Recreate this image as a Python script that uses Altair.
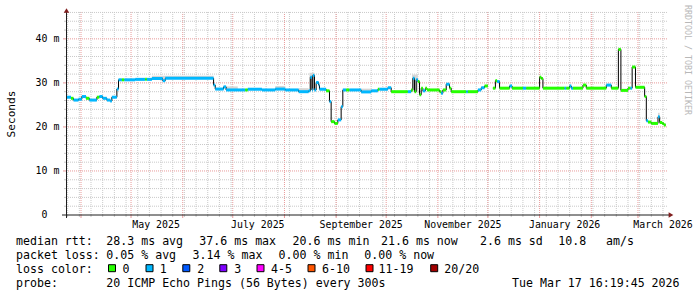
import altair as alt
import pandas as pd

# ---------------- data ----------------
seg_start = [
    "2025-03-23T12:00", "2025-03-26T00:00", "2025-03-27T12:00", "2025-03-30T12:00",
    "2025-04-01T12:00", "2025-04-04T00:00", "2025-04-06T00:00", "2025-04-10T12:00",
    "2025-04-12T00:00", "2025-04-14T00:00", "2025-04-16T12:00", "2025-04-18T12:00",
    "2025-04-19T12:00", "2025-04-22T12:00", "2025-04-23T12:00", "2025-04-25T12:00",
    "2025-04-27T00:00", "2025-05-03T12:00", "2025-05-09T12:00", "2025-05-10T12:00",
    "2025-05-13T12:00", "2025-05-20T00:00", "2025-05-21T12:00", "2025-06-19T12:00",
    "2025-06-20T12:00", "2025-06-25T12:00", "2025-06-27T00:00", "2025-07-08T12:00",
    "2025-07-10T00:00", "2025-07-18T12:00", "2025-07-26T12:00", "2025-08-01T12:00",
    "2025-08-09T12:00", "2025-08-15T12:00", "2025-08-16T12:00", "2025-08-17T12:00",
    "2025-08-18T00:00", "2025-08-19T00:00", "2025-08-20T00:00", "2025-08-21T12:00",
    "2025-08-22T00:00", "2025-08-26T00:00", "2025-08-28T00:00", "2025-08-29T00:00",
    "2025-08-31T00:00", "2025-09-02T00:00", "2025-09-04T00:00", "2025-09-05T00:00",
    "2025-09-07T00:00", "2025-09-09T00:00", "2025-09-16T00:00", "2025-09-22T00:00",
    "2025-09-26T00:00", "2025-09-27T00:00", "2025-10-02T00:00", "2025-10-04T00:00",
    "2025-10-14T00:00", "2025-10-16T00:00", "2025-10-17T00:00", "2025-10-18T00:00",
    "2025-10-19T00:00", "2025-10-20T00:00", "2025-10-21T00:00", "2025-10-22T00:00",
    "2025-10-23T00:00", "2025-10-24T12:00", "2025-10-25T12:00", "2025-11-02T00:00",
    "2025-11-03T00:00", "2025-11-04T00:00", "2025-11-06T00:00", "2025-11-08T00:00",
    "2025-11-09T00:00", "2025-11-18T00:00", "2025-11-19T00:00", "2025-11-25T00:00",
    "2025-11-27T00:00", "2025-11-29T00:00", "2025-12-01T00:00", "2025-12-04T00:00",
    "2025-12-05T12:00", "2025-12-06T12:00", "2025-12-08T00:00", "2025-12-14T00:00",
    "2025-12-15T12:00", "2025-12-22T00:00", "2025-12-24T00:00", "2026-01-01T00:00",
    "2026-01-02T00:00", "2026-01-03T00:00", "2026-01-16T00:00", "2026-01-17T00:00",
    "2026-01-19T00:00", "2026-01-20T00:00", "2026-01-21T00:00", "2026-01-27T00:00",
    "2026-01-29T00:00", "2026-02-10T00:00", "2026-02-13T00:00", "2026-02-17T06:00",
    "2026-02-18T18:00", "2026-02-23T00:00", "2026-02-24T12:00", "2026-02-25T12:00",
    "2026-02-27T12:00", "2026-03-05T00:00", "2026-03-06T00:00", "2026-03-07T00:00",
    "2026-03-09T00:00", "2026-03-13T00:00", "2026-03-14T00:00", "2026-03-15T12:00",
    "2026-03-16T12:00",
]
seg_ms = [
    26.75, 26.5, 26.1, 26.3,
    26.9, 26.5, 26.1, 26.75,
    26.9, 26.5, 26.1, 25.9,
    26.75, 28.6, 30.7, 30.7,
    30.7, 30.8, 30.8, 30.8,
    31.0, 30.5, 31.05, 29.5,
    28.6, 29.1, 28.4, 28.4,
    28.56, 28.4, 28.6, 28.4,
    28.0, 28.2, 31.3, 28.4,
    31.7, 28.4, 30.1, 29.5,
    28.56, 28.2, 25.75, 21.2,
    20.8, 21.6, 24.6, 28.4,
    28.4, 28.4, 27.95, 28.2,
    28.56, 28.56, 28.9, 28.0,
    28.0, 28.4, 31.05, 28.0,
    30.7, 30.3, 27.3, 28.8,
    28.2, 28.8, 28.4, 28.0,
    27.65, 28.4, 29.7, 28.8,
    28.0, 28.0, 28.0, 28.4,
    28.9, 29.3, None, 28.8,
    30.5, 30.3, 28.8, 29.3,
    28.8, 28.8, 28.8, 31.3,
    31.0, 28.8, 28.8, 28.8,
    29.3, 28.8, 28.8, 29.5,
    28.8, 29.5, 28.8, 37.6,
    28.3, 28.8, 28.8, 33.6,
    29.0, 26.9, 21.4, 21.1,
    20.8, 22.3, 21.0, 20.8,
    20.45,
]
seg_loss = [
    "1", "0", "1", "1",
    "1", "0", "1", "0",
    "1", "1", "1", "1",
    "1", "1", "1", "0",
    "1", "1", "0", "1",
    "1", "1", "1", "1",
    "1", "1", "1", "0",
    "1", "1", "1", "1",
    "1", "1", "1", "1",
    "1", "1", "1", "1",
    "1", "0", "1", "0",
    "0", "1", "1", "1",
    "0", "1", "1", "1",
    "0", "1", "1", "0",
    "1", "0", "1", "0",
    "1", "0", "0", "0",
    "1", "0", "0", "0",
    "1", "0", "1", "0",
    "0", "1", "0", "1",
    "1", "0", "0", "0",
    "0", "1", "0", "1",
    "0", "1", "0", "0",
    "0", "0", "1", "0",
    "1", "1", "0", "0",
    "0", "1", "0", "0",
    "0", "0", "1", "0",
    "0", "0", "1", "0",
    "0", "1", "0", "0",
    "0",
]
series_end = "2026-03-17T16:00"

smoke_start = ["2025-05-13T12:00", "2025-06-27T00:00", "2025-07-26T12:00", "2025-08-09T12:00",
               "2025-08-16T00:00", "2025-09-16T00:00", "2025-10-16T12:00", "2026-03-13T00:00"]
smoke_end = ["2025-06-19T12:00", "2025-07-04T00:00", "2025-08-01T12:00", "2025-08-15T12:00",
             "2025-08-19T00:00", "2025-09-22T00:00", "2025-10-20T00:00", "2026-03-14T00:00"]
smoke_lo = [31.0, 28.4, 28.6, 28.0, 28.4, 27.95, 28.0, 22.3]
smoke_hi = [31.6, 29.2, 29.3, 28.8, 32.3, 28.7, 31.9, 23.2]

month_labels = ["May 2025", "July 2025", "September 2025", "November 2025", "January 2026", "March 2026"]
month_label_at = ["2025-05-16T00:00", "2025-07-16T00:00", "2025-09-16T00:00",
                  "2025-11-16T00:00", "2026-01-16T00:00", "2026-03-16T00:00"]
y_ticks = [0, 10, 20, 30, 40]

rtt_stats = ["28.3 ms avg", "37.6 ms max", "20.6 ms min", "21.6 ms now", "2.6 ms sd", "10.8", "am/s"]
loss_stats = ["0.05 % avg", "3.14 % max", "0.00 % min", "0.00 % now"]
loss_labels = ["0", "1", "2", "3", "4-5", "6-10", "11-19", "20/20"]
loss_colors = ["#26ff00", "#00b8ff", "#0059ff", "#7e00ff", "#ff00ff", "#ff5500", "#ff0000", "#a10000"]
probe_text = "20 ICMP Echo Pings (56 Bytes) every 300s"
stamp_text = "Tue Mar 17 16:19:45 2026"

# ---------------- layout / style ----------------
W, H = 602, 203
FONT = "DejaVu Sans Mono"
GRID = "#c9c9c9"
MGRID = "#e89a9a"
ARROW = "#801f1f"

x_scale = alt.Scale(domain=[alt.DateTime(year=2025, month=3, date=23, hours=0),
                            alt.DateTime(year=2026, month=3, date=19, hours=0)])
y_scale = alt.Scale(domain=[0, 46.1], nice=False, zero=False)

def X(f):
    return alt.X(f, scale=x_scale, axis=None)

def Y(f):
    return alt.Y(f, scale=y_scale, axis=None)

# segments
ends = seg_start[1:] + [series_end]
segs = pd.DataFrame({"start": seg_start, "end": ends, "ms": seg_ms, "loss": seg_loss})
segs_valid = segs.dropna(subset=["ms"])

pts = []
part = 0
n = len(seg_start)
for i in range(n):
    ms = seg_ms[i]
    if ms is None:
        part += 1
        continue
    pts.append({"t": seg_start[i], "ms": ms, "part": part})
    if i + 1 == n or seg_ms[i + 1] is None:
        pts.append({"t": ends[i], "ms": ms, "part": part})
line_df = pd.DataFrame(pts)

smoke_df = pd.DataFrame({"s": smoke_start, "e": smoke_end, "lo": smoke_lo, "hi": smoke_hi})

# grid
weeks = pd.date_range("2025-03-24", "2026-03-16", freq="7D").strftime("%Y-%m-%dT%H:%M")
months = pd.date_range("2025-04-01", "2026-03-01", freq="MS").strftime("%Y-%m-%dT%H:%M")
vmin_df = pd.DataFrame({"t": list(weeks)})
vmaj_df = pd.DataFrame({"t": list(months)})
hmin_df = pd.DataFrame({"v": [v for v in range(2, 47, 2) if v % 10]})
hmaj_df = pd.DataFrame({"v": [10, 20, 30, 40]})

layers = []
# vertical grid
layers.append(alt.Chart(vmin_df).mark_rule(color=GRID, strokeDash=[1, 1], strokeWidth=1).encode(
    x=X("t:T"), y=alt.value(0), y2=alt.value(H)))
layers.append(alt.Chart(vmin_df).mark_rule(color=GRID, strokeWidth=1).encode(
    x=X("t:T"), y=alt.value(H), y2=alt.value(H + 2)))
layers.append(alt.Chart(vmaj_df).mark_rule(color=MGRID, strokeDash=[1, 1], strokeWidth=1).encode(
    x=X("t:T"), y=alt.value(0), y2=alt.value(H)))
layers.append(alt.Chart(vmaj_df).mark_rule(color=MGRID, strokeWidth=1).encode(
    x=X("t:T"), y=alt.value(H), y2=alt.value(H + 3)))
# horizontal grid
layers.append(alt.Chart(hmin_df).mark_rule(color=GRID, strokeDash=[1, 1], strokeWidth=1).encode(
    y=Y("v:Q"), x=alt.value(0), x2=alt.value(W)))
layers.append(alt.Chart(hmin_df).mark_rule(color=GRID, strokeWidth=1).encode(
    y=Y("v:Q"), x=alt.value(-2), x2=alt.value(0)))
layers.append(alt.Chart(hmaj_df).mark_rule(color=MGRID, strokeDash=[1, 1], strokeWidth=1).encode(
    y=Y("v:Q"), x=alt.value(0), x2=alt.value(W)))
layers.append(alt.Chart(hmaj_df).mark_rule(color=MGRID, strokeWidth=1).encode(
    y=Y("v:Q"), x=alt.value(-3), x2=alt.value(0)))

# smoke
layers.append(alt.Chart(smoke_df).mark_rect(color="#d6d6d6").encode(
    x=X("s:T"), x2="e:T", y=Y("lo:Q"), y2="hi:Q"))
# median line (black step)
layers.append(alt.Chart(line_df).mark_line(color="#000000", strokeWidth=1, interpolate="step-after").encode(
    x=X("t:T"), y=Y("ms:Q"), detail="part:N"))
# loss-coloured median
layers.append(alt.Chart(segs_valid).mark_rule(strokeWidth=3, strokeCap="butt").encode(
    x=X("start:T"), x2="end:T", y=Y("ms:Q"),
    color=alt.Color("loss:N", scale=alt.Scale(domain=loss_labels, range=loss_colors), legend=None)))

# axes
layers.append(alt.Chart(pd.DataFrame({"a": [0]})).mark_rule(color="#1f1f1f", strokeWidth=1).encode(
    x=alt.value(-4), x2=alt.value(W + 2), y=alt.value(H)))
layers.append(alt.Chart(pd.DataFrame({"a": [0]})).mark_rule(color="#1f1f1f", strokeWidth=1).encode(
    x=alt.value(0.5), y=alt.value(0), y2=alt.value(H + 3)))
layers.append(alt.Chart(pd.DataFrame({"a": [0]})).mark_point(
    shape="triangle-up", size=30, filled=True, color=ARROW, opacity=1).encode(
    x=alt.value(0.5), y=alt.value(-1.5)))
layers.append(alt.Chart(pd.DataFrame({"a": [0]})).mark_point(
    shape="triangle-right", size=30, filled=True, color=ARROW, opacity=1).encode(
    x=alt.value(W + 3), y=alt.value(H)))

# axis labels
mlab_df = pd.DataFrame({"t": month_label_at, "lab": month_labels})
layers.append(alt.Chart(mlab_df).mark_text(font=FONT, fontSize=9.9, align="center", baseline="alphabetic",
                                           color="#000000").encode(
    x=X("t:T"), y=alt.value(H + 12.5), text="lab:N"))
ylab_df = pd.DataFrame({"v": y_ticks, "num": [str(v) for v in y_ticks],
                        "unit": ["" if v == 0 else "m" for v in y_ticks]})
layers.append(alt.Chart(ylab_df).mark_text(font=FONT, fontSize=9.9, align="right", baseline="middle",
                                           color="#000000").encode(
    y=Y("v:Q"), x=alt.value(-18.5), text="num:N"))
layers.append(alt.Chart(ylab_df).mark_text(font=FONT, fontSize=9.9, align="left", baseline="middle",
                                           color="#000000").encode(
    y=Y("v:Q"), x=alt.value(-12.6), text="unit:N"))

# rotated titles
layers.append(alt.Chart(pd.DataFrame({"s": ["Seconds"]})).mark_text(
    font=FONT, fontSize=11.1, angle=270, align="center", baseline="alphabetic", color="#000000").encode(
    x=alt.value(-51), y=alt.value(102), text="s:N"))
layers.append(alt.Chart(pd.DataFrame({"s": ["RRDTOOL / TOBI OETIKER"]})).mark_text(
    font=FONT, fontSize=8.3, angle=90, align="center", baseline="alphabetic", color="#b8b8b8").encode(
    x=alt.value(619), y=alt.value(48), text="s:N"))

# legend text (layout positions in pixels relative to the plot)
rows_y = [233.3, 247.3, 261.0, 275.0]
rtt_x = [40.3, 133.3, 226.6, 315.0, 414.0, 492.3, 540.0]
loss_x = [40.3, 126.6, 212.6, 298.3]
box_x = [46.0, 83.5, 120.3, 157.3, 194.5, 245.5, 303.5, 368.2]
boxlab_x = [56.6, 93.8, 131.3, 168.3, 205.0, 256.0, 312.5, 378.3]

items = []
items.append(("median rtt:", -50.0, rows_y[0]))
items += [(s, x, rows_y[0]) for s, x in zip(rtt_stats, rtt_x)]
items.append(("packet loss:", -50.0, rows_y[1]))
items += [(s, x, rows_y[1]) for s, x in zip(loss_stats, loss_x)]
items.append(("loss color:", -50.0, rows_y[2]))
items += [(s, x, rows_y[2]) for s, x in zip(loss_labels, boxlab_x)]
items.append(("probe:", -50.0, rows_y[3]))
items.append((probe_text, 40.3, rows_y[3]))
items.append((stamp_text, 446.0, rows_y[3]))
leg_df = pd.DataFrame(items, columns=["txt", "px", "py"])
layers.append(alt.Chart(leg_df).mark_text(font=FONT, fontSize=11.6, align="left", baseline="alphabetic",
                                          color="#000000").encode(
    x=alt.X("px:Q", scale=None), y=alt.Y("py:Q", scale=None), text="txt:N"))

box_df = pd.DataFrame({"px": box_x, "py": [256.2] * len(box_x), "c": loss_colors})
layers.append(alt.Chart(box_df).mark_square(size=49, filled=True, stroke="#000000", strokeWidth=1,
                                            opacity=1).encode(
    x=alt.X("px:Q", scale=None), y=alt.Y("py:Q", scale=None), fill=alt.Fill("c:N", scale=None)))

chart = alt.layer(*layers).properties(
    width=W, height=H,
    padding={"left": 66, "top": 12, "right": 29, "bottom": 82},
    autosize=alt.AutoSizeParams(type="none"),
    background="#ffffff",
).configure_view(strokeWidth=0)

chart.save("out.html", embed_options={"renderer": "svg", "actions": False})
